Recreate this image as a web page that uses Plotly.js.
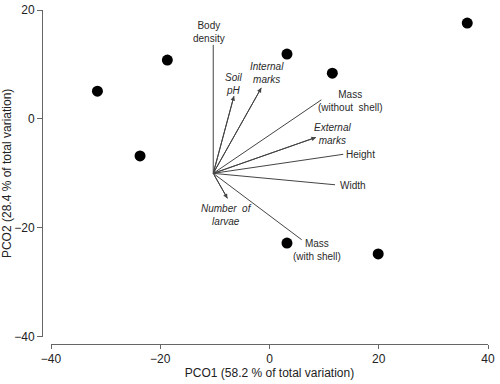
<!DOCTYPE html>
<html>
<head>
<meta charset="utf-8">
<script src="https://cdn.plot.ly/plotly-3.0.1.min.js"></script>
<style>
  html, body { margin: 0; padding: 0; background: #fff; }
  #chart { width: 500px; height: 384px; }
</style>
</head>
<body>
<div id="chart"></div>
<script>
// site scores on the first two PCO axes
const pcoX = [-31.5, -23.7, -18.7, 3.2, 11.5, 36.2, 3.2, 19.9];
const pcoY = [5.1, -6.8, 10.8, 11.9, 8.4, 17.6, -22.8, -24.8];

// vector overlay (common origin, end points)
const vecOrigin = [-10.3, -10];
const vecNames = ['Body<br>density', '<i>Soil<br>pH</i>', '<i>Internal<br>marks</i>',
  'Mass<br>(without&nbsp; shell)', '<i>External<br>marks</i>', 'Height', 'Width',
  'Mass<br>(with shell)', '<i>Number&nbsp; of<br>larvae</i>'];
const vecEndX = [-10.3, -6.5, -1.5, 9.5, 8.5, 13.5, 12.0, 5.9, -7.7];
const vecEndY = [13.6, 4.2, 5.7, 3.5, -3.4, -6.5, -12.1, -22.2, -14.6];
const vecArrow = [false, true, true, false, true, false, false, false, true];
const labelX = [-11.1, -6.6, -0.5, 14.8, 11.6, 16.6, 15.2, 8.7, -7.8];
const labelY = [15.9, 6.4, 8.4, 3.3, -2.8, -6.5, -12.3, -24.1, -17.7];

const xTicks = [-40, -20, 0, 20, 40];
const yTicks = [-40, -20, 0, 20];

const font = 'Arial, "Liberation Sans", sans-serif';
const lineCol = '#444';

function buildLines() {
  const xs = [], ys = [];
  vecEndX.forEach((x, i) => {
    xs.push(vecOrigin[0], x, null);
    ys.push(vecOrigin[1], vecEndY[i], null);
  });
  return { x: xs, y: ys };
}

const lines = buildLines();

const traces = [
  {
    x: lines.x,
    y: lines.y,
    type: 'scatter',
    mode: 'lines',
    line: { color: lineCol, width: 1 },
    hoverinfo: 'skip',
    showlegend: false
  },
  {
    x: pcoX,
    y: pcoY,
    type: 'scatter',
    mode: 'markers',
    marker: { color: '#000', size: 11 },
    showlegend: false
  }
];

const annotations = [];
vecNames.forEach((name, i) => {
  if (vecArrow[i]) {
    annotations.push({
      x: vecEndX[i], y: vecEndY[i],
      ax: vecOrigin[0], ay: vecOrigin[1],
      xref: 'x', yref: 'y', axref: 'x', ayref: 'y',
      text: '',
      showarrow: true,
      arrowhead: 2,
      arrowsize: 0.9,
      arrowwidth: 1,
      arrowcolor: lineCol,
      standoff: 0
    });
  }
  annotations.push({
    x: labelX[i], y: labelY[i],
    xref: 'x', yref: 'y',
    text: name,
    showarrow: false,
    font: { family: font, size: 10, color: '#2a2a2a' },
    align: 'center'
  });
});

const layout = {
  width: 500,
  height: 384,
  margin: { l: 42, r: 12, t: 10, b: 40 },
  paper_bgcolor: '#fff',
  plot_bgcolor: '#fff',
  font: { family: font, size: 12, color: '#222' },
  showlegend: false,
  xaxis: {
    domain: [9 / 446, 1],
    range: [-40, 40],
    anchor: 'free',
    position: 0,
    tickvals: xTicks,
    ticks: 'outside',
    ticklen: 4,
    tickcolor: '#666',
    showline: true,
    linecolor: '#666',
    linewidth: 1,
    showgrid: false,
    zeroline: false,
    tickfont: { size: 12, color: '#222' },
    title: { text: 'PCO1 (58.2 % of total variation)', font: { size: 12, color: '#222' }, standoff: 3 }
  },
  yaxis: {
    domain: [7.3 / 334, 1],
    range: [-40, 20],
    anchor: 'free',
    position: 0,
    tickvals: yTicks,
    ticks: 'outside',
    ticklen: 5,
    tickcolor: '#666',
    showline: true,
    linecolor: '#666',
    linewidth: 1,
    showgrid: false,
    zeroline: false,
    tickfont: { size: 12, color: '#222' },
    title: { text: 'PCO2 (28.4 % of total variation)', font: { size: 12, color: '#222' }, standoff: 4 }
  },
  annotations: annotations
};

Plotly.newPlot('chart', traces, layout, { displayModeBar: false, staticPlot: true });
</script>
</body>
</html>
